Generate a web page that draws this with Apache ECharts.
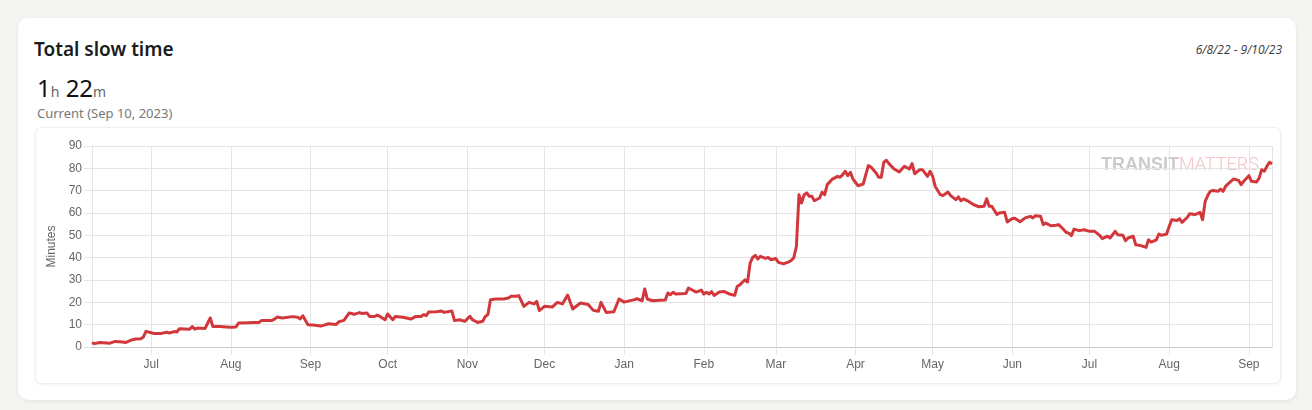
<!DOCTYPE html>
<html>
<head>
<meta charset="utf-8">
<title>Total slow time</title>
<script src="https://cdn.jsdelivr.net/npm/echarts@6/dist/echarts.min.js"></script>
<style>
    html, body {
        margin: 0;
        padding: 0;
        width: 1312px;
        height: 410px;
        background: #f4f4f3;
        font-family: "Noto Sans", "Open Sans", sans-serif;
        overflow: hidden;
    }
    .card {
        position: absolute;
        left: 18px;
        top: 18px;
        width: 1278px;
        height: 382px;
        background: #fff;
        border-radius: 10px;
        box-shadow: 0 1px 4px rgba(0, 0, 0, 0.08);
    }
    .title {
        position: absolute;
        left: 34px;
        top: 37px;
        font-size: 19px;
        line-height: 24px;
        font-weight: 600;
        color: #1b1b1b;
    }
    .range {
        position: absolute;
        right: 30px;
        top: 43px;
        font-family: "Open Sans", "Noto Sans", sans-serif;
        font-size: 12px;
        line-height: 14px;
        font-style: italic;
        font-weight: 400;
        color: #3a3a3a;
    }
    .big {
        position: absolute;
        left: 37px;
        top: 73px;
        font-size: 24px;
        line-height: 30px;
        color: #111;
    }
    .big small {
        font-size: 14px;
        color: #666;
    }
    .sub {
        position: absolute;
        left: 37px;
        top: 105px;
        font-size: 13px;
        line-height: 16px;
        color: #777;
    }
    .inner {
        position: absolute;
        left: 35px;
        top: 127px;
        width: 1244px;
        height: 255px;
        border: 1px solid #efefef;
        border-radius: 6px;
        box-shadow: 0 1px 3px rgba(0, 0, 0, 0.06);
        background: #fff;
    }
    #chart {
        position: absolute;
        left: 0;
        top: 0;
        width: 1244px;
        height: 255px;
    }
</style>
</head>
<body>
<div class="card"></div>
<div class="title">Total slow time</div>
<div class="range">6/8/22 - 9/10/23</div>
<div class="big">1<small>h</small> 22<small>m</small></div>
<div class="sub">Current (Sep 10, 2023)</div>
<div class="inner"><div id="chart"></div></div>

<script>
// one line per month, dates and minutes line up entry by entry
var dates = [
    '2022-06-08', '2022-06-09', '2022-06-11', '2022-06-15', '2022-06-17', '2022-06-20', '2022-06-21', '2022-06-23', '2022-06-25', '2022-06-27', '2022-06-28', '2022-06-29',
    '2022-07-01', '2022-07-02', '2022-07-05', '2022-07-07', '2022-07-08', '2022-07-10', '2022-07-11', '2022-07-12', '2022-07-16', '2022-07-17', '2022-07-18', '2022-07-19', '2022-07-22', '2022-07-24', '2022-07-25', '2022-07-28', '2022-07-30',
    '2022-08-01', '2022-08-03', '2022-08-04', '2022-08-08', '2022-08-10', '2022-08-12', '2022-08-13', '2022-08-17', '2022-08-18', '2022-08-19', '2022-08-21', '2022-08-25', '2022-08-27', '2022-08-28', '2022-08-29', '2022-08-31',
    '2022-09-02', '2022-09-05', '2022-09-06', '2022-09-08', '2022-09-11', '2022-09-12', '2022-09-14', '2022-09-16', '2022-09-17', '2022-09-18', '2022-09-20', '2022-09-21', '2022-09-23', '2022-09-24', '2022-09-26', '2022-09-27', '2022-09-28', '2022-09-30',
    '2022-10-01', '2022-10-03', '2022-10-04', '2022-10-07', '2022-10-10', '2022-10-12', '2022-10-14', '2022-10-15', '2022-10-16', '2022-10-17', '2022-10-20', '2022-10-22', '2022-10-23', '2022-10-26', '2022-10-27', '2022-10-29', '2022-10-31',
    '2022-11-02', '2022-11-03', '2022-11-05', '2022-11-07', '2022-11-08', '2022-11-09', '2022-11-10', '2022-11-12', '2022-11-15', '2022-11-17', '2022-11-18', '2022-11-20', '2022-11-21', '2022-11-23', '2022-11-25', '2022-11-27', '2022-11-28', '2022-11-29',
    '2022-12-01', '2022-12-04', '2022-12-06', '2022-12-08', '2022-12-10', '2022-12-12', '2022-12-15', '2022-12-18', '2022-12-20', '2022-12-22', '2022-12-23', '2022-12-25', '2022-12-28', '2022-12-30',
    '2023-01-01', '2023-01-05', '2023-01-06', '2023-01-08', '2023-01-09', '2023-01-10', '2023-01-12', '2023-01-15', '2023-01-17', '2023-01-18', '2023-01-19', '2023-01-20', '2023-01-21', '2023-01-25', '2023-01-26', '2023-01-28', '2023-01-29', '2023-01-31',
    '2023-02-01', '2023-02-02', '2023-02-03', '2023-02-04', '2023-02-05', '2023-02-07', '2023-02-09', '2023-02-11', '2023-02-13', '2023-02-14', '2023-02-15', '2023-02-16', '2023-02-17', '2023-02-18', '2023-02-19', '2023-02-20', '2023-02-21', '2023-02-22', '2023-02-23', '2023-02-25', '2023-02-26', '2023-02-27',
    '2023-03-01', '2023-03-02', '2023-03-04', '2023-03-06', '2023-03-07', '2023-03-08', '2023-03-09', '2023-03-10', '2023-03-11', '2023-03-12', '2023-03-13', '2023-03-14', '2023-03-15', '2023-03-16', '2023-03-18', '2023-03-19', '2023-03-20', '2023-03-21', '2023-03-23', '2023-03-25', '2023-03-26', '2023-03-27', '2023-03-28', '2023-03-29', '2023-03-30', '2023-03-31',
    '2023-04-02', '2023-04-04', '2023-04-05', '2023-04-06', '2023-04-07', '2023-04-09', '2023-04-10', '2023-04-11', '2023-04-12', '2023-04-13', '2023-04-14', '2023-04-16', '2023-04-18', '2023-04-20', '2023-04-22', '2023-04-23', '2023-04-24', '2023-04-26', '2023-04-27', '2023-04-29', '2023-04-30',
    '2023-05-01', '2023-05-02', '2023-05-04', '2023-05-05', '2023-05-07', '2023-05-08', '2023-05-10', '2023-05-11', '2023-05-12', '2023-05-13', '2023-05-15', '2023-05-17', '2023-05-19', '2023-05-21', '2023-05-22', '2023-05-23', '2023-05-24', '2023-05-26', '2023-05-27', '2023-05-29', '2023-05-30',
    '2023-06-01', '2023-06-02', '2023-06-04', '2023-06-06', '2023-06-08', '2023-06-09', '2023-06-10', '2023-06-12', '2023-06-13', '2023-06-14', '2023-06-16', '2023-06-18', '2023-06-19', '2023-06-20', '2023-06-22', '2023-06-23', '2023-06-24', '2023-06-25', '2023-06-27', '2023-06-29',
    '2023-07-01', '2023-07-03', '2023-07-05', '2023-07-06', '2023-07-08', '2023-07-09', '2023-07-11', '2023-07-12', '2023-07-14', '2023-07-15', '2023-07-16', '2023-07-18', '2023-07-19', '2023-07-21', '2023-07-23', '2023-07-24', '2023-07-25', '2023-07-27', '2023-07-28', '2023-07-29', '2023-07-31',
    '2023-08-01', '2023-08-02', '2023-08-04', '2023-08-05', '2023-08-06', '2023-08-08', '2023-08-09', '2023-08-11', '2023-08-12', '2023-08-13', '2023-08-14', '2023-08-15', '2023-08-16', '2023-08-17', '2023-08-18', '2023-08-20', '2023-08-21', '2023-08-22', '2023-08-23', '2023-08-25', '2023-08-26', '2023-08-28', '2023-08-29', '2023-08-30',
    '2023-09-01', '2023-09-02', '2023-09-04', '2023-09-05', '2023-09-06', '2023-09-07', '2023-09-08', '2023-09-09', '2023-09-10'
];

var minutes = [
    2, 1.5, 2, 1.7, 2.5, 2.2, 2, 3, 3.6, 3.7, 4.5, 7,
    6.4, 6.1, 6.1, 6.6, 6.3, 6.9, 6.7, 8.2, 8, 9.1, 8, 8.5, 8.3, 13, 9.2, 9.2, 9,
    8.8, 9, 10.7, 10.9, 11, 11, 11.9, 11.9, 12.5, 13.4, 13, 13.6, 13.3, 12.6, 14, 10,
    9.8, 9.4, 9.7, 10.4, 10.1, 11.3, 11.9, 15.2, 15, 14.6, 15.4, 15, 15.2, 13.7, 13.7, 14.3, 13.7, 12.2,
    14.8, 12.2, 13.7, 13.3, 12.5, 13.7, 13.7, 14.5, 14, 15.7, 15.8, 16.1, 15.5, 16.1, 11.8, 12.2, 11.5,
    13.7, 12.2, 11, 11.5, 13.7, 14.5, 21.2, 21.5, 21.5, 21.9, 22.7, 22.7, 23, 18.2, 20, 19.3, 20.4, 16.3,
    18.2, 17.9, 20, 19.3, 23.3, 17, 19.7, 19, 16.4, 16, 20, 15.5, 15.8, 21.5,
    20.1, 21.2, 21.6, 20.7, 26, 21.5, 20.7, 20.9, 21, 24.2, 23.4, 24.5, 23.7, 23.9, 26.4, 25.2, 24.6, 25.5,
    23.7, 24.5, 23.7, 24.8, 23.1, 24.6, 24.8, 23.7, 23.1, 27.2, 27.8, 29, 30.1, 29.1, 37.6, 40.1, 41, 39.4, 40.6, 39.7, 40.1, 39.1,
    39.6, 37.9, 37.2, 38.1, 38.8, 40, 45, 68.2, 64.5, 68.2, 69, 67.5, 67.5, 65.5, 66.7, 69.3, 68.2, 72.7, 75.2, 76.4, 76, 77.2, 78.7, 76.7, 78.2, 75.2,
    72.2, 73, 77.2, 81.2, 80.6, 77.9, 76, 76, 82.7, 83.6, 82.1, 79.7, 78.4, 80.9, 79.7, 82.1, 77.6, 79.4, 79.4, 76.4, 78.7,
    76.4, 71.9, 68.2, 67.8, 69.4, 67.8, 66, 67.2, 65.5, 66.3, 65.2, 63.7, 62.8, 63, 66.4, 63, 63, 59.3, 60, 60.3, 56,
    57.5, 57.6, 56.1, 57.8, 58.5, 57.8, 58.8, 58.5, 54.8, 55.5, 54.3, 54.5, 54.8, 53.7, 51.3, 51, 49.9, 52.8, 52.1, 52.5,
    51.8, 51.8, 50, 48.5, 49.6, 48.8, 51.8, 50.3, 50, 47.6, 48.8, 49.6, 45.8, 45.4, 44.6, 48, 47, 48, 50.6, 50, 50.6,
    54, 57, 56.6, 57.5, 55.8, 58, 59.7, 59.3, 59.7, 60.3, 57, 65.2, 67.8, 69.7, 70.1, 69.7, 70.7, 69.7, 72, 74.2, 75.2, 74.6, 72.7, 74.2,
    76.7, 74.2, 73.9, 75.7, 79.4, 78.7, 80.9, 82.7, 82
];

var startDate = '2022-06-08';
var endDate = '2023-09-10';
var yMax = 90;
var yStep = 10;

var gridColor = '#e4e4e4';
var labelColor = '#666';
var lineColor = '#d1373b';

var points = dates.map(function (d, i) {
    return [d, minutes[i]];
});

var myChart = echarts.init(document.getElementById('chart'), null, { renderer: 'canvas' });

myChart.setOption({
    animation: false,
    textStyle: { fontFamily: '"Liberation Sans", Arial, sans-serif' },
    grid: { left: 56, right: 8, top: 18, bottom: 36, containLabel: false },
    graphic: [{
        type: 'text',
        left: 1065,
        top: 28,
        silent: true,
        z: 0,
        style: {
            text: '{a|TRANSIT}{b|MATTERS}',
            rich: {
                a: { fontFamily: '"Liberation Sans", Arial, sans-serif', fontWeight: 'bold', fontSize: 18, fill: '#cbcbcb' },
                b: { fontFamily: 'Roboto, sans-serif', fontWeight: 300, fontSize: 18, fill: '#f3c3c6' }
            }
        }
    }],
    xAxis: {
        type: 'time',
        min: startDate,
        max: endDate,
        splitNumber: 15,
        axisLine: { show: true, lineStyle: { color: '#c9c9c9', width: 1 } },
        axisTick: { show: true, length: 8, lineStyle: { color: gridColor } },
        splitLine: { show: true, lineStyle: { color: gridColor, width: 1 } },
        axisLabel: {
            formatter: '{MMM}',
            color: labelColor,
            fontSize: 12,
            margin: 12,
            hideOverlap: false
        }
    },
    yAxis: {
        type: 'value',
        min: 0,
        max: yMax,
        interval: yStep,
        name: 'Minutes',
        nameLocation: 'middle',
        nameGap: 32,
        nameTextStyle: { color: labelColor, fontSize: 12 },
        axisLine: { show: true, lineStyle: { color: gridColor } },
        axisTick: { show: true, length: 8, lineStyle: { color: gridColor } },
        splitLine: { show: true, lineStyle: { color: gridColor } },
        axisLabel: { color: labelColor, fontSize: 12, margin: 10 }
    },
    series: [{
        type: 'line',
        data: points,
        showSymbol: false,
        z: 3,
        lineStyle: { color: lineColor, width: 3, join: 'round' },
        itemStyle: { color: lineColor }
    }]
});
</script>
</body>
</html>
